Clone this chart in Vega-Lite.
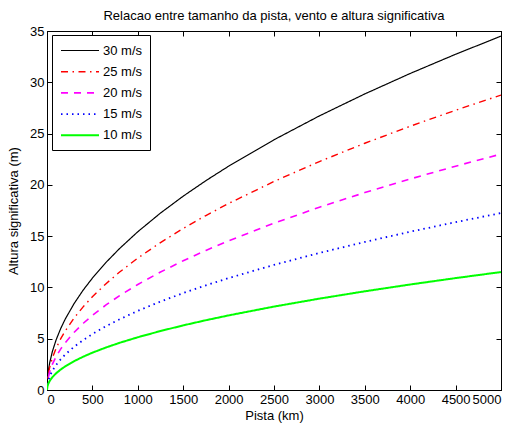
{
  "$schema": "https://vega.github.io/schema/vega-lite/v6.json",
  "width": 454,
  "height": 359,
  "autosize": "none",
  "padding": {"left": 47, "top": 31, "right": 15, "bottom": 37},
  "title": {"text": "Relacao entre tamanho da pista, vento e altura significativa", "fontSize": 13, "fontWeight": "normal", "font": "Liberation Sans", "color": "black", "offset": 2},
  "config": {
    "font": "Liberation Sans",
    "view": {"stroke": "black", "strokeWidth": 1},
    "axis": {"grid": false, "domainColor": "black", "tickColor": "black", "labelColor": "black", "titleColor": "black", "labelFontSize": 13, "titleFontSize": 13, "titleFontWeight": "normal", "tickSize": -5, "labelPadding": 8, "format": "d"}
  },
  "data": {"values": [
    {"pista":0,"altura":0,"vento":"30 m/s"},{"pista":5,"altura":1.091,"vento":"30 m/s"},{"pista":15,"altura":1.890,"vento":"30 m/s"},{"pista":30,"altura":2.672,"vento":"30 m/s"},{"pista":60,"altura":3.779,"vento":"30 m/s"},{"pista":100,"altura":4.879,"vento":"30 m/s"},{"pista":150,"altura":5.976,"vento":"30 m/s"},{"pista":200,"altura":6.900,"vento":"30 m/s"},{"pista":300,"altura":8.451,"vento":"30 m/s"},{"pista":400,"altura":9.758,"vento":"30 m/s"},{"pista":500,"altura":10.910,"vento":"30 m/s"},{"pista":650,"altura":12.440,"vento":"30 m/s"},{"pista":800,"altura":13.800,"vento":"30 m/s"},{"pista":1000,"altura":15.430,"vento":"30 m/s"},{"pista":1250,"altura":17.250,"vento":"30 m/s"},{"pista":1500,"altura":18.897,"vento":"30 m/s"},{"pista":1750,"altura":20.411,"vento":"30 m/s"},{"pista":2000,"altura":21.820,"vento":"30 m/s"},{"pista":2500,"altura":24.396,"vento":"30 m/s"},{"pista":3000,"altura":26.724,"vento":"30 m/s"},{"pista":3500,"altura":28.866,"vento":"30 m/s"},{"pista":4000,"altura":30.859,"vento":"30 m/s"},{"pista":4500,"altura":32.731,"vento":"30 m/s"},{"pista":5000,"altura":34.501,"vento":"30 m/s"},
    {"pista":0,"altura":0,"vento":"25 m/s"},{"pista":5,"altura":0.909,"vento":"25 m/s"},{"pista":15,"altura":1.575,"vento":"25 m/s"},{"pista":30,"altura":2.227,"vento":"25 m/s"},{"pista":60,"altura":3.150,"vento":"25 m/s"},{"pista":100,"altura":4.066,"vento":"25 m/s"},{"pista":150,"altura":4.980,"vento":"25 m/s"},{"pista":200,"altura":5.750,"vento":"25 m/s"},{"pista":300,"altura":7.043,"vento":"25 m/s"},{"pista":400,"altura":8.132,"vento":"25 m/s"},{"pista":500,"altura":9.092,"vento":"25 m/s"},{"pista":650,"altura":10.366,"vento":"25 m/s"},{"pista":800,"altura":11.500,"vento":"25 m/s"},{"pista":1000,"altura":12.858,"vento":"25 m/s"},{"pista":1250,"altura":14.375,"vento":"25 m/s"},{"pista":1500,"altura":15.748,"vento":"25 m/s"},{"pista":1750,"altura":17.009,"vento":"25 m/s"},{"pista":2000,"altura":18.184,"vento":"25 m/s"},{"pista":2500,"altura":20.330,"vento":"25 m/s"},{"pista":3000,"altura":22.270,"vento":"25 m/s"},{"pista":3500,"altura":24.055,"vento":"25 m/s"},{"pista":4000,"altura":25.716,"vento":"25 m/s"},{"pista":4500,"altura":27.276,"vento":"25 m/s"},{"pista":5000,"altura":28.751,"vento":"25 m/s"},
    {"pista":0,"altura":0,"vento":"20 m/s"},{"pista":5,"altura":0.727,"vento":"20 m/s"},{"pista":15,"altura":1.260,"vento":"20 m/s"},{"pista":30,"altura":1.782,"vento":"20 m/s"},{"pista":60,"altura":2.520,"vento":"20 m/s"},{"pista":100,"altura":3.253,"vento":"20 m/s"},{"pista":150,"altura":3.984,"vento":"20 m/s"},{"pista":200,"altura":4.600,"vento":"20 m/s"},{"pista":300,"altura":5.634,"vento":"20 m/s"},{"pista":400,"altura":6.506,"vento":"20 m/s"},{"pista":500,"altura":7.274,"vento":"20 m/s"},{"pista":650,"altura":8.293,"vento":"20 m/s"},{"pista":800,"altura":9.200,"vento":"20 m/s"},{"pista":1000,"altura":10.286,"vento":"20 m/s"},{"pista":1250,"altura":11.500,"vento":"20 m/s"},{"pista":1500,"altura":12.598,"vento":"20 m/s"},{"pista":1750,"altura":13.608,"vento":"20 m/s"},{"pista":2000,"altura":14.547,"vento":"20 m/s"},{"pista":2500,"altura":16.264,"vento":"20 m/s"},{"pista":3000,"altura":17.816,"vento":"20 m/s"},{"pista":3500,"altura":19.244,"vento":"20 m/s"},{"pista":4000,"altura":20.573,"vento":"20 m/s"},{"pista":4500,"altura":21.820,"vento":"20 m/s"},{"pista":5000,"altura":23.001,"vento":"20 m/s"},
    {"pista":0,"altura":0,"vento":"15 m/s"},{"pista":5,"altura":0.545,"vento":"15 m/s"},{"pista":15,"altura":0.945,"vento":"15 m/s"},{"pista":30,"altura":1.336,"vento":"15 m/s"},{"pista":60,"altura":1.890,"vento":"15 m/s"},{"pista":100,"altura":2.440,"vento":"15 m/s"},{"pista":150,"altura":2.988,"vento":"15 m/s"},{"pista":200,"altura":3.450,"vento":"15 m/s"},{"pista":300,"altura":4.226,"vento":"15 m/s"},{"pista":400,"altura":4.879,"vento":"15 m/s"},{"pista":500,"altura":5.455,"vento":"15 m/s"},{"pista":650,"altura":6.220,"vento":"15 m/s"},{"pista":800,"altura":6.900,"vento":"15 m/s"},{"pista":1000,"altura":7.715,"vento":"15 m/s"},{"pista":1250,"altura":8.625,"vento":"15 m/s"},{"pista":1500,"altura":9.449,"vento":"15 m/s"},{"pista":1750,"altura":10.206,"vento":"15 m/s"},{"pista":2000,"altura":10.910,"vento":"15 m/s"},{"pista":2500,"altura":12.198,"vento":"15 m/s"},{"pista":3000,"altura":13.362,"vento":"15 m/s"},{"pista":3500,"altura":14.433,"vento":"15 m/s"},{"pista":4000,"altura":15.430,"vento":"15 m/s"},{"pista":4500,"altura":16.365,"vento":"15 m/s"},{"pista":5000,"altura":17.251,"vento":"15 m/s"},
    {"pista":0,"altura":0,"vento":"10 m/s"},{"pista":5,"altura":0.364,"vento":"10 m/s"},{"pista":15,"altura":0.630,"vento":"10 m/s"},{"pista":30,"altura":0.891,"vento":"10 m/s"},{"pista":60,"altura":1.260,"vento":"10 m/s"},{"pista":100,"altura":1.626,"vento":"10 m/s"},{"pista":150,"altura":1.992,"vento":"10 m/s"},{"pista":200,"altura":2.300,"vento":"10 m/s"},{"pista":300,"altura":2.817,"vento":"10 m/s"},{"pista":400,"altura":3.253,"vento":"10 m/s"},{"pista":500,"altura":3.637,"vento":"10 m/s"},{"pista":650,"altura":4.146,"vento":"10 m/s"},{"pista":800,"altura":4.600,"vento":"10 m/s"},{"pista":1000,"altura":5.143,"vento":"10 m/s"},{"pista":1250,"altura":5.750,"vento":"10 m/s"},{"pista":1500,"altura":6.299,"vento":"10 m/s"},{"pista":1750,"altura":6.804,"vento":"10 m/s"},{"pista":2000,"altura":7.273,"vento":"10 m/s"},{"pista":2500,"altura":8.132,"vento":"10 m/s"},{"pista":3000,"altura":8.908,"vento":"10 m/s"},{"pista":3500,"altura":9.622,"vento":"10 m/s"},{"pista":4000,"altura":10.286,"vento":"10 m/s"},{"pista":4500,"altura":10.910,"vento":"10 m/s"},{"pista":5000,"altura":11.500,"vento":"10 m/s"}
  ]},
  "layer": [
    {
      "mark": {"type": "line", "clip": true},
      "encoding": {
        "x": {"field": "pista", "type": "quantitative", "title": "Pista (km)", "scale": {"domain": [0, 5000], "nice": false}, "axis": {"values": [0,500,1000,1500,2000,2500,3000,3500,4000,4500,5000], "titlePadding": 3}},
        "y": {"field": "altura", "type": "quantitative", "title": "Altura significativa (m)", "scale": {"domain": [0, 35], "nice": false}, "axis": {"values": [0,5,10,15,20,25,30,35], "titlePadding": 9}},
        "detail": {"field": "vento"},
        "color": {"field": "vento", "type": "nominal", "title": null,
          "scale": {"domain": ["30 m/s","25 m/s","20 m/s","15 m/s","10 m/s"], "range": ["#000000","#ff0000","#ff00ff","#0000ff","#00ff00"]},
          "legend": {"orient": "none", "legendX": 5, "legendY": 4, "strokeColor": "black", "fillColor": "white", "padding": 7, "labelFontSize": 13, "labelColor": "black", "symbolType": "M-2.533,0H2.533", "symbolSize": 225, "symbolOffset": 12.5, "symbolStrokeWidth": 1.8, "rowPadding": 5.2, "labelOffset": 14.5, "cornerRadius": 0}},
        "strokeDash": {"field": "vento", "type": "nominal", "title": null,
          "scale": {"domain": ["30 m/s","25 m/s","20 m/s","15 m/s","10 m/s"], "range": [[1,0],[7,4.5,1.5,4.5],[7,6],[1.5,4],[1,0]]}},
        "strokeWidth": {"field": "vento", "type": "nominal", "title": null,
          "scale": {"domain": ["30 m/s","25 m/s","20 m/s","15 m/s","10 m/s"], "range": [1.2,2,2,2,2]}}
      }
    },
    {
      "mark": {"type": "line", "strokeOpacity": 0},
      "encoding": {
        "x": {"field": "pista", "type": "quantitative", "scale": {"domain": [0, 5000], "nice": false}, "axis": {"orient": "top", "values": [0,500,1000,1500,2000,2500,3000,3500,4000,4500,5000], "labels": false, "title": null}},
        "y": {"field": "altura", "type": "quantitative", "scale": {"domain": [0, 35], "nice": false}, "axis": {"orient": "right", "values": [0,5,10,15,20,25,30,35], "labels": false, "title": null}},
        "detail": {"field": "vento"}
      }
    }
  ],
  "resolve": {"axis": {"x": "independent", "y": "independent"}}
}
